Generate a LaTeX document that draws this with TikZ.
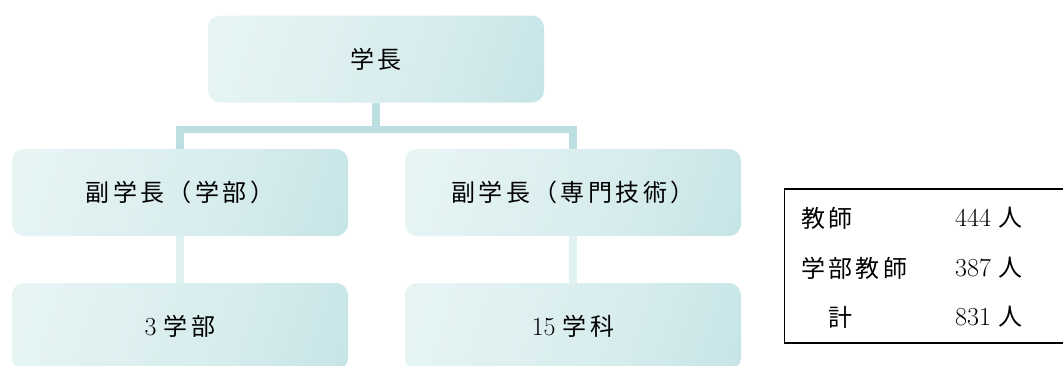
\documentclass[tikz,border=0pt]{standalone}
\usepackage{fontspec}
\newfontfamily\jp[LetterSpace=14]{Noto Sans CJK JP}
\definecolor{boxL}{HTML}{E9F5F5}
\definecolor{boxM}{HTML}{D6ECED}
\definecolor{boxR}{HTML}{B8DDE0}
\definecolor{connA}{HTML}{BCDFE2}
\definecolor{connB}{HTML}{E0F1F1}
\pgfdeclarehorizontalshading{boxshade}{100bp}{color(0bp)=(boxL); color(30bp)=(boxL!70!boxM); color(60bp)=(boxM); color(100bp)=(boxR)}
\tikzset{
  orgbox/.style={rounded corners=12pt, minimum width=336pt, minimum height=87pt,
    inner sep=0pt, shading=boxshade, shading angle=-18,
    font=\fontsize{24}{28}\selectfont, text=black},
  connup/.style={draw=connA, line width=7.5pt, line join=miter},
  conndown/.style={draw=connB, line width=7.5pt},
  cell/.style={anchor=west, inner sep=0pt, font=\fontsize{24}{28}\selectfont},
  tablebox/.style={draw=black, line width=1.8pt}
}
\newcommand{\dg}[1]{{\fontsize{26}{28}\selectfont #1}}
\begin{document}
\begin{tikzpicture}[x=1pt,y=-1pt]
\useasboundingbox (0,0) rectangle (1063,365);
\clip (0,0) rectangle (1063,365);
\coordinate (j) at (376,129.5);
\node[orgbox] (top) at (376,59) {\jp 学長};
\node[orgbox] (m1) at (180,192.5) {\jp 副学長（学部）};
\node[orgbox] (m2) at (573,192.5) {\jp 副学長（専門技術）};
\node[orgbox] (b1) at (180,326.5) {\dg{3} {\jp 学部}};
\node[orgbox] (b2) at (573,326.5) {\dg{15} {\jp 学科}};
\draw[connup] (top.south) -- (j);
\draw[connup] (m1.north) |- (j) -| (m2.north);
\draw[conndown] (m1.south) -- (b1.north);
\draw[conndown] (m2.south) -- (b2.north);
% table
\node[tablebox, minimum width=290pt, minimum height=154pt, anchor=north west, inner sep=0pt] (tab) at (783.5,188) {};
\node[cell] (r1a) at (801,218) {\jp 教師};
\node[cell] (r2a) at (801,268) {\jp 学部教師};
\node[cell] (r3a) at (801,317) {\jp 　計};
\node[cell] (r1b) at (955,218) {\dg{444} {\jp 人}};
\node[cell] (r2b) at (955,268) {\dg{387} {\jp 人}};
\node[cell] (r3b) at (955,317) {\dg{831} {\jp 人}};
\end{tikzpicture}
\end{document}
